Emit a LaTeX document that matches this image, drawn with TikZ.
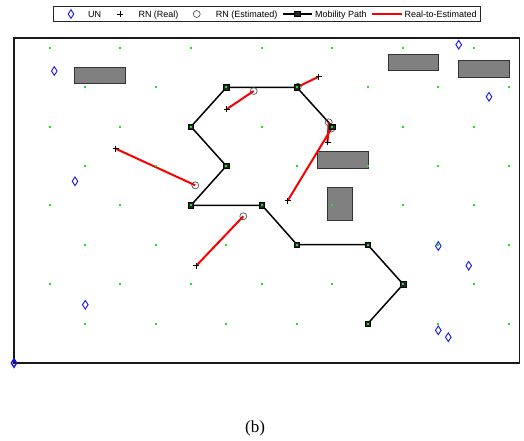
\documentclass[tikz,border=0pt]{standalone}
\usepackage{fontspec}
\setmainfont{Liberation Serif}
\newfontfamily\legfont{Liberation Sans}
\usetikzlibrary{shapes.geometric}
\definecolor{dotgreen}{RGB}{20,235,20}
\definecolor{obsgray}{RGB}{128,128,128}
\definecolor{unblue}{RGB}{20,20,240}
\definecolor{rnred}{RGB}{250,0,0}
\tikzset{
  obstacle/.style={draw=black!80, fill=obsgray, line width=1pt},
  pathsq/.style={rectangle, draw=black, fill=black!85, line width=0.8pt, minimum size=5.5pt, inner sep=0pt},
  mpath/.style={black, line width=1.5pt},
  rnline/.style={rnred, line width=2pt},
  estcirc/.style={circle, draw=black!75, line width=0.6pt, minimum size=7pt, inner sep=0pt},
  plusmark/.style={black, line width=0.7pt},
  undiamond/.style={diamond, draw=unblue, line width=0.9pt, minimum width=6pt, minimum height=9pt, inner sep=0pt},
  legtext/.style={anchor=base west, inner sep=0pt, font=\legfont\fontsize{9}{10}\selectfont},
}
\begin{document}
\begin{tikzpicture}[x=1pt,y=-1pt]
\useasboundingbox (0,0) rectangle (524,441);
\fill[white] (0,0) rectangle (524,441);

% obstacles
\draw[obstacle] (74.7,67.3) rectangle (125.7,83.5);
\draw[obstacle] (388,54.7) rectangle (438.7,71);
\draw[obstacle] (458.7,60.8) rectangle (509.7,77.3);
\draw[obstacle] (317.3,151.5) rectangle (368,168.2);
\draw[obstacle] (327.3,187.3) rectangle (352.8,220.3);

% mobility path
\coordinate (p1) at (367.7,323.7);
\coordinate (p2) at (403.2,284.3);
\coordinate (p3) at (367.7,244.7);
\coordinate (p4) at (297,244.7);
\coordinate (p5) at (262,205.3);
\coordinate (p6) at (191,205.3);
\coordinate (p7) at (226.3,166);
\coordinate (p8) at (191,126.7);
\coordinate (p9) at (226.5,87.3);
\coordinate (p10) at (296.8,87.3);
\coordinate (p11) at (332.5,126.7);
\draw[mpath] (p1) -- (p2) -- (p3) -- (p4) -- (p5) -- (p6) -- (p7) -- (p8) -- (p9) -- (p10) -- (p11);

% real-to-estimated
\coordinate (r1) at (226.5,109.3); \coordinate (e1) at (253.7,91);
\coordinate (r2) at (115.7,148.7); \coordinate (e2) at (195.3,185.3);
\coordinate (r3) at (318.5,76.8);  \coordinate (e3) at (297.8,86.8);
\coordinate (r4) at (327.5,142.3); \coordinate (e4) at (328.7,122.3);
\coordinate (r5) at (287.7,200.7); \coordinate (e5) at (331.5,128.5);
\coordinate (r6) at (196.3,265.7); \coordinate (e6) at (243.3,216.3);
\foreach \i in {1,...,6} { \draw[rnline] (r\i) -- (e\i); }
\foreach \i in {1,...,6} { \node[estcirc] (c\i) at (e\i) {}; }

\foreach \i in {1,...,11} { \node[pathsq] (s\i) at (p\i) {}; }

% grid of green dots
\foreach \r in {0,2,4,6,8} {
  \foreach \k in {0,...,6} {
    \fill[dotgreen] ({49.7+70.67*\k-1},{47.7+39.41*\r-1}) rectangle ++(2,2);
  }
}
\foreach \r in {1,3,5,7} {
  \foreach \k in {0,...,7} {
    \fill[dotgreen] ({14.3+70.67*\k-1},{47.7+39.41*\r-1}) rectangle ++(2,2);
  }
}

\foreach \i in {1,...,6} {
  \draw[plusmark] (r\i) +(-3,0) -- +(3,0) +(0,-3) -- +(0,3);
}

% frame
\draw[black!90, line width=1.5pt] (14,38) rectangle (519.3,363);

% UN diamonds
\node[undiamond] (u1) at (54.3,71) {};
\node[undiamond] (u2) at (75,181.3) {};
\node[undiamond] (u3) at (85.3,304.7) {};
\node[undiamond, line width=1.4pt] (u4) at (14,363) {};
\node[undiamond] (u5) at (458.7,44.7) {};
\node[undiamond] (u6) at (489,96.8) {};
\node[undiamond] (u7) at (438.3,246) {};
\node[undiamond] (u8) at (468.7,265.7) {};
\node[undiamond] (u9) at (438.3,330.3) {};
\node[undiamond] (u10) at (448.3,337.2) {};

% legend
\node[draw=black!85, fill=white, line width=0.8pt, minimum width=427pt, minimum height=15pt, inner sep=0pt] (legbox) at (266.5,13.5) {};
\node[undiamond] (lu) at (71,14) {};
\node[legtext] (lt1) at (88,17.5) {UN};
\coordinate (lp) at (120,14);
\draw[plusmark] (lp) +(-3,0) -- +(3,0) +(0,-3) -- +(0,3);
\node[legtext] (lt2) at (138.3,17.5) {RN (Real)};
\node[estcirc] (lc) at (196.7,14) {};
\node[legtext] (lt3) at (215.7,17.5) {RN (Estimated)};
\coordinate (la) at (282.7,14);
\coordinate (lb) at (312.3,14);
\draw[mpath] (la) -- (lb);
\node[pathsq] (ls) at (297.5,14) {};
\node[legtext] (lt4) at (315,17.5) {Mobility Path};
\coordinate (lr1) at (371.7,14);
\coordinate (lr2) at (401.7,14);
\draw[rnred, line width=1.3pt] (lr1) -- (lr2);
\node[legtext] (lt5) at (404.3,17.5) {Real-to-Estimated};

% caption
\node[font=\fontsize{17}{20}\selectfont, inner sep=0pt] (cap) at (255,428.5) {(b)};
\end{tikzpicture}
\end{document}
